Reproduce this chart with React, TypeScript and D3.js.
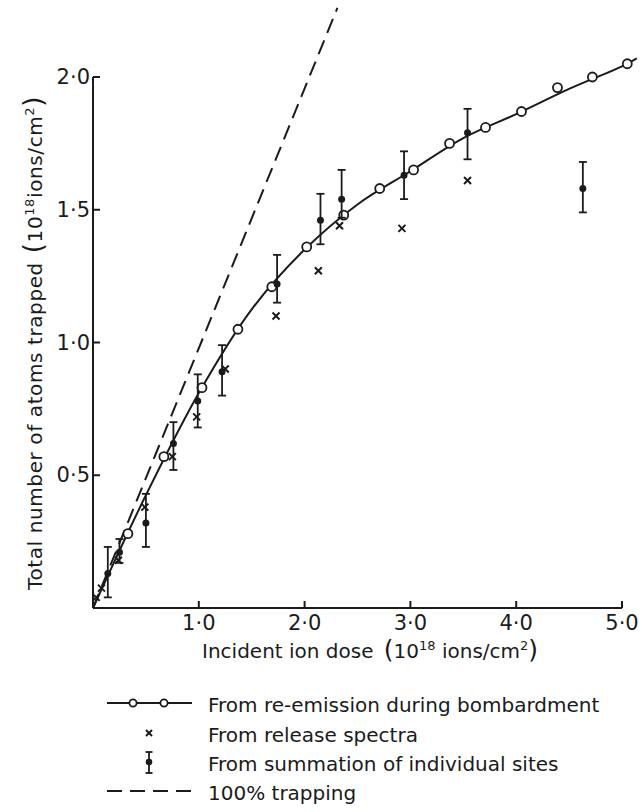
import React from 'react';
import * as d3 from 'd3';

const width = 642;
const height = 812;
const ink = '#1b1b1b';
const font = '"DejaVu Sans", sans-serif';

// re-emission during bombardment (open circles)
const reDose = [0.33, 0.67, 1.03, 1.37, 1.69, 2.02, 2.37, 2.71, 3.03, 3.37, 3.71, 4.05, 4.39, 4.72, 5.05];
const reTrapped = [0.28, 0.57, 0.83, 1.05, 1.21, 1.36, 1.48, 1.58, 1.65, 1.75, 1.81, 1.87, 1.96, 2.0, 2.05];

// the smooth curve drawn through them
const fitDose = [0, 0.5, 1.0, 1.5, 2.0, 2.5, 3.0, 3.5, 4.0, 4.5, 5.0, 5.14];
const fitTrapped = [0, 0.425, 0.81, 1.125, 1.35, 1.52, 1.645, 1.77, 1.86, 1.955, 2.04, 2.07];

// release spectra (x marks)
const relDose = [0.03, 0.08, 0.24, 0.49, 0.75, 0.98, 1.25, 1.73, 2.13, 2.33, 2.92, 3.54];
const relTrapped = [0.04, 0.075, 0.18, 0.38, 0.57, 0.72, 0.9, 1.1, 1.27, 1.44, 1.43, 1.61];

// summation of individual sites (dot + error bar)
const sumDose = [0.14, 0.25, 0.5, 0.76, 0.99, 1.22, 1.74, 2.15, 2.35, 2.94, 3.54, 4.63];
const sumTrapped = [0.13, 0.21, 0.32, 0.62, 0.78, 0.89, 1.22, 1.46, 1.54, 1.63, 1.79, 1.58];
const sumLow = [0.04, 0.17, 0.23, 0.52, 0.68, 0.8, 1.15, 1.37, 1.47, 1.54, 1.69, 1.49];
const sumHigh = [0.23, 0.26, 0.43, 0.7, 0.88, 0.99, 1.33, 1.56, 1.65, 1.72, 1.88, 1.68];

// 100% trapping
const trapDose = [0, 2.31];
const trapTrapped = [0, 2.26];

const xTicks = [1, 2, 3, 4, 5];
const xTickLabels = ['1·0', '2·0', '3·0', '4·0', '5·0'];
const yTicks = [0.5, 1, 1.5, 2];
const yTickLabels = ['0·5', '1·0', '1·5', '2·0'];

const legendLabels = [
  'From re-emission during bombardment',
  'From release spectra',
  'From summation of individual sites',
  '100% trapping',
];

const x = d3.scaleLinear().domain([0, 5]).range([93, 622]);
const y = d3.scaleLinear().domain([0, 2]).range([608, 77]);

const lineGen = d3.line<number[]>().x(d => x(d[0])).y(d => y(d[1]));
const curveGen = d3
  .line<number[]>()
  .x(d => x(d[0]))
  .y(d => y(d[1]))
  .curve(d3.curveCatmullRom);

const Cross = ({ cx, cy, s }: { cx: number; cy: number; s: number }) => (
  <path
    d={`M${cx - s},${cy - s}L${cx + s},${cy + s}M${cx + s},${cy - s}L${cx - s},${cy + s}`}
    stroke={ink}
    strokeWidth={2}
  />
);

const ErrBar = ({ cx, cy, y1, y2, w, r }: any) => (
  <g stroke={ink} strokeWidth={1.8}>
    <line x1={cx} x2={cx} y1={y1} y2={y2} />
    <line x1={cx - w} x2={cx + w} y1={y1} y2={y1} />
    <line x1={cx - w} x2={cx + w} y1={y2} y2={y2} />
    <circle cx={cx} cy={cy} r={r} fill={ink} />
  </g>
);

const App = () => {
  const curvePts = fitDose.map((d, i) => [d, fitTrapped[i]]);
  const trapPts = trapDose.map((d, i) => [d, trapTrapped[i]]);

  const legY = [703, 733, 762, 791];
  const legX0 = 107;
  const legX1 = 192;
  const legMid = 149;

  return (
    <svg
      width={width}
      height={height}
      style={{ position: 'absolute', left: 0, top: 0, background: '#fff' }}
      fontFamily={font}
    >
      {/* axes */}
      <g stroke={ink} strokeWidth={2} fill="none">
        <line x1={x(0)} x2={x(0)} y1={y(0)} y2={y(2)} />
        <line x1={x(0)} x2={x(5)} y1={y(0)} y2={y(0)} />
        {xTicks.map(t => (
          <line key={'xt' + t} x1={x(t)} x2={x(t)} y1={y(0)} y2={y(0) - 7} />
        ))}
        {yTicks.map(t => (
          <line key={'yt' + t} x1={x(0)} x2={x(0) + 7} y1={y(t)} y2={y(t)} />
        ))}
      </g>
      {xTicks.map((t, i) => (
        <text key={'xl' + t} x={x(t)} y={630} textAnchor="middle" fontSize={21} fill={ink}>
          {xTickLabels[i]}
        </text>
      ))}
      {yTicks.map((t, i) => (
        <text key={'yl' + t} x={x(0) - 3} y={y(t) + 7} textAnchor="end" fontSize={21} fill={ink}>
          {yTickLabels[i]}
        </text>
      ))}

      {/* axis titles */}
      <text x={202} y={658} fontSize={20} fill={ink}>
        Incident ion dose <tspan fontSize={25} dx={4}>(</tspan>
        <tspan>10</tspan>
        <tspan fontSize={13} dy={-8}>18</tspan>
        <tspan dy={8}> ions/cm</tspan>
        <tspan fontSize={13} dy={-8}>2</tspan>
        <tspan fontSize={25} dy={8}>)</tspan>
      </text>
      <text
        transform="translate(42,343) rotate(-90)"
        textAnchor="middle"
        fontSize={20}
        letterSpacing={0.6}
        fill={ink}
      >
        Total number of atoms trapped <tspan fontSize={26} dx={2}>(</tspan>
        <tspan>10</tspan>
        <tspan fontSize={13} dy={-8}>18</tspan>
        <tspan dy={8}>ions/cm</tspan>
        <tspan fontSize={13} dy={-8}>2</tspan>
        <tspan fontSize={26} dy={8}>)</tspan>
      </text>

      {/* 100% trapping */}
      <path d={lineGen(trapPts) || ''} fill="none" stroke={ink} strokeWidth={2} strokeDasharray="15 8" />

      {/* re-emission curve */}
      <path d={curveGen(curvePts) || ''} fill="none" stroke={ink} strokeWidth={2} />
      {reDose.map((d, i) => (
        <circle key={'re' + i} cx={x(d)} cy={y(reTrapped[i])} r={4.5} fill="#fff" stroke={ink} strokeWidth={1.8} />
      ))}

      {/* summation of sites */}
      {sumDose.map((d, i) => (
        <ErrBar key={'s' + i} cx={x(d)} cy={y(sumTrapped[i])} y1={y(sumHigh[i])} y2={y(sumLow[i])} w={4} r={2.6} />
      ))}

      {/* release spectra */}
      {relDose.map((d, i) => (
        <Cross key={'x' + i} cx={x(d)} cy={y(relTrapped[i])} s={3.5} />
      ))}

      {/* legend */}
      <line x1={legX0} x2={legX1} y1={legY[0]} y2={legY[0]} stroke={ink} strokeWidth={2} />
      {[133, 164].map(cx => (
        <circle key={'lc' + cx} cx={cx} cy={legY[0]} r={3.6} fill="#fff" stroke={ink} strokeWidth={1.8} />
      ))}
      <Cross cx={legMid} cy={legY[1]} s={3} />
      <ErrBar cx={legMid} cy={legY[2]} y1={legY[2] - 10} y2={legY[2] + 11} w={3.5} r={2.4} />
      <line
        x1={legX0}
        x2={legX1}
        y1={legY[3]}
        y2={legY[3]}
        stroke={ink}
        strokeWidth={2}
        strokeDasharray="15 8"
      />
      {legendLabels.map((l, i) => (
        <text key={l} x={208} y={legY[i] + 9} fontSize={20} fill={ink}>
          {l}
        </text>
      ))}
    </svg>
  );
};

export default App;
